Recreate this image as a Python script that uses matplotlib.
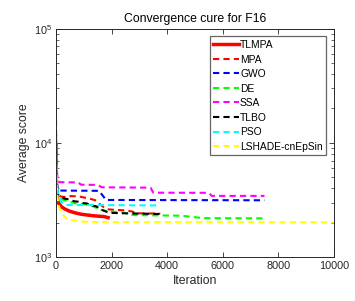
import matplotlib
matplotlib.use("Agg")
import matplotlib.pyplot as plt
from matplotlib.ticker import LogLocator, NullFormatter, FixedLocator

plt.rcParams['font.family'] = ['Liberation Sans', 'DejaVu Sans']
plt.rcParams['mathtext.fontset'] = 'custom'
plt.rcParams['mathtext.rm'] = 'Liberation Sans'

title = "Convergence cure for F16"
xlabel = "Iteration"
ylabel = "Average score"
names = ["TLMPA", "MPA", "GWO", "DE", "SSA", "TLBO", "PSO", "LSHADE-cnEpSin"]

tlmpa_it = [1, 10, 30, 60, 100, 200, 300, 450, 650, 900, 1130, 1400, 1730, 1875]
tlmpa = [9500, 5000, 3600, 3100, 2950, 2750, 2650, 2540, 2450, 2370, 2330, 2290, 2260, 2210]

mpa_it = [1, 10, 30, 70, 150, 300, 400, 800, 1200, 1400, 1500, 1700, 1850, 2000, 2500, 2750, 2850, 3100, 3750]
mpa = [12000, 6500, 4200, 3600, 3400, 3350, 3420, 3400, 3250, 3150, 3000, 2750, 2620, 2600, 2560, 2500, 2420, 2410, 2400]

gwo_it = [1, 10, 30, 60, 100, 1550, 1700, 1800, 7500]
gwo = [10500, 6000, 4500, 4000, 3820, 3800, 3400, 3160, 3140]

de_it = [1, 10, 30, 80, 200, 500, 700, 1000, 1300, 1600, 1900, 2300, 2500, 2800, 4500, 5300, 7500]
de = [11000, 6000, 4200, 3300, 3200, 3050, 2950, 2900, 2800, 2600, 2500, 2480, 2420, 2330, 2300, 2190, 2180]

ssa_it = [1, 10, 30, 60, 150, 800, 900, 1500, 1650, 3400, 3500, 5500, 5600, 7500]
ssa = [16000, 9000, 6000, 4600, 4520, 4500, 4300, 4280, 4080, 4050, 3660, 3650, 3430, 3430]

tlbo_it = [1, 10, 30, 80, 300, 450, 650, 800, 1000, 1100, 1300, 1450, 1600, 1700, 1900, 2300, 3750]
tlbo = [9000, 5500, 4000, 3500, 3250, 3200, 3080, 3050, 2960, 2950, 2820, 2780, 2600, 2560, 2440, 2420, 2380]

pso_it = [1, 10, 30, 80, 200, 350, 3750]
pso = [11500, 6500, 4500, 3500, 3000, 2860, 2830]

ls_it = [1, 10, 30, 80, 200, 400, 500, 800, 1000, 1600, 10000]
ls = [10000, 6000, 3800, 2900, 2400, 2150, 2120, 2060, 2040, 2020, 2010]

xticks = [0, 2000, 4000, 6000, 8000, 10000]

series = [(tlmpa_it, tlmpa), (mpa_it, mpa), (gwo_it, gwo), (de_it, de),
          (ssa_it, ssa), (tlbo_it, tlbo), (pso_it, pso), (ls_it, ls)]
colors = ['#ff0000', '#ff0000', '#0000ff', '#00ff00', '#ff00ff', '#000000', '#00ffff', '#ffff00']

fig = plt.figure(figsize=(3.55, 3.01), dpi=100)
ax = fig.add_axes([56/355, 1-257/301, (334-56)/355, (257-28.7)/301])

for i, ((xs, ys), c, n) in enumerate(zip(series, colors, names)):
    if i == 0:
        ax.plot(xs, ys, color=c, lw=2.5, label=n, solid_joinstyle='round')
    else:
        ax.plot(xs, ys, color=c, lw=1.5, linestyle=(0, (3, 2)), label=n)

ax.set_yscale('log')
ax.set_xlim(0, 10000)
ax.set_ylim(1e3, 1e5)
ax.xaxis.set_major_locator(FixedLocator(xticks))
ax.set_xticklabels([str(t) for t in xticks])
ax.yaxis.set_major_locator(LogLocator(base=10, numticks=10))
ax.yaxis.set_minor_locator(LogLocator(base=10, subs=range(2, 10), numticks=10))
ax.yaxis.set_minor_formatter(NullFormatter())

tc = '#262626'
ax.tick_params(which='both', direction='in', top=True, right=True, colors=tc, labelsize=7.8, pad=3)
ax.tick_params(which='major', length=3.5, width=0.6)
ax.tick_params(which='minor', length=2, width=0.5)
for s in ax.spines.values():
    s.set_color(tc)
    s.set_linewidth(0.7)

ax.set_title(title, fontsize=8.8, color='black', pad=5)
ax.set_xlabel(xlabel, fontsize=8.8, color=tc, labelpad=3)
ax.set_ylabel(ylabel, fontsize=8.8, color=tc, labelpad=2.5)

leg = ax.legend(loc='upper right', fontsize=7.4, frameon=True, fancybox=False,
                borderaxespad=0.75, handlelength=2.5, handletextpad=0.1,
                labelspacing=0.44, borderpad=0.35)
leg.get_frame().set_edgecolor('#404040')
leg.get_frame().set_linewidth(0.9)

fig.savefig('out.png', dpi=100)
